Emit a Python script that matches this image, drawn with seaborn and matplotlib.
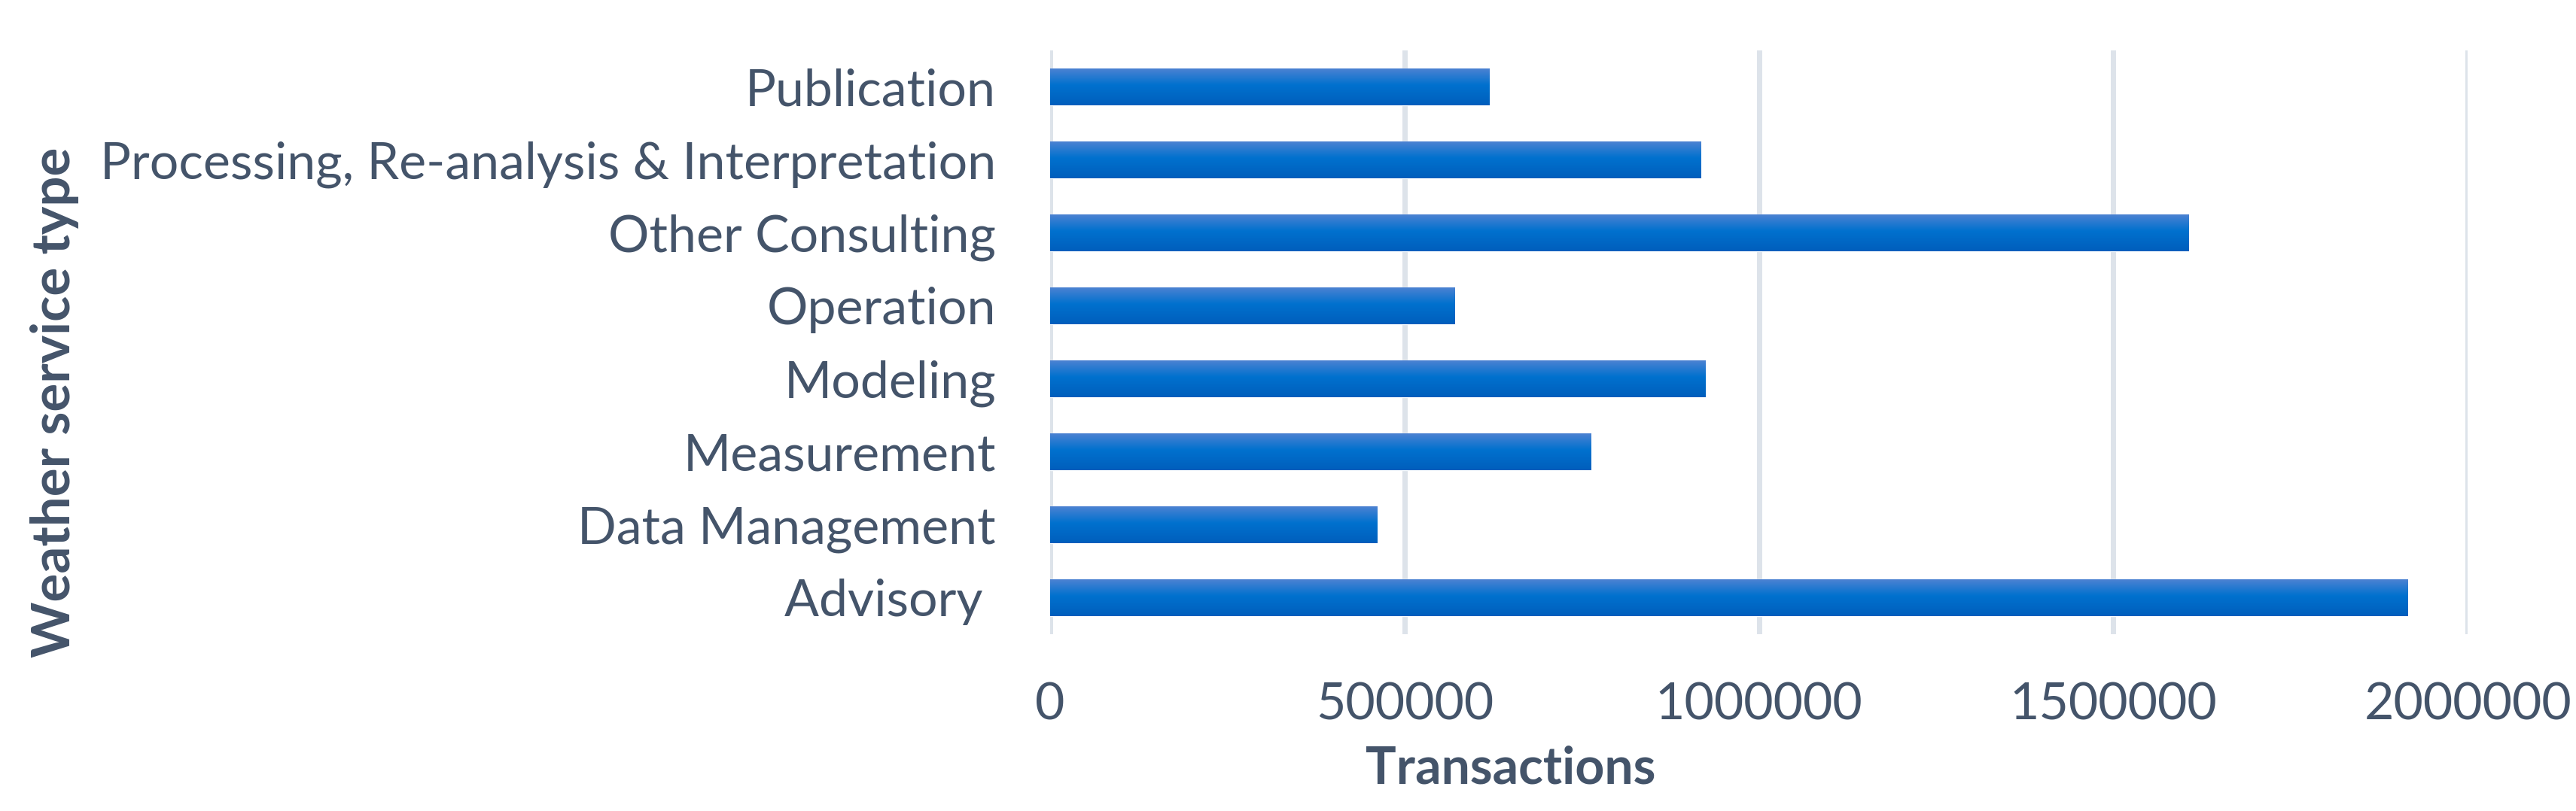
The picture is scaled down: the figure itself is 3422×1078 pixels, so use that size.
import numpy as np
import matplotlib
matplotlib.use("Agg")
import matplotlib.pyplot as plt
from matplotlib.colors import LinearSegmentedColormap
import seaborn as sns

# data
categories = ["Publication", "Processing, Re-analysis & Interpretation", "Other Consulting",
              "Operation", "Modeling", "Measurement", "Data Management", "Advisory "]
transactions = [620000, 918000, 1606000, 571000, 925000, 763000, 461000, 1915000]
x_ticks = [0, 500000, 1000000, 1500000, 2000000]

text_color = "#44546A"
grid_color = "#DDE3EA"

sns.set_style("white")
plt.rcParams["font.family"] = ["Lato", "DejaVu Sans"]

fig = plt.figure(figsize=(34.22, 10.78), dpi=100)
ax = fig.add_axes([0.4077, 0.218, 0.5503, 0.720])

sns.barplot(x=transactions, y=categories, orient="h", width=0.5,
            color="#0070CC", ax=ax, zorder=3)

# gradient fill like the office chart
grad_cmap = LinearSegmentedColormap.from_list(
    "bar", [(0.0, "#4C82D2"), (0.45, "#0071CE"), (1.0, "#005EBC")])
grad = np.linspace(0, 1, 256).reshape(-1, 1)
for p in list(ax.patches):
    x0, y0 = p.get_x(), p.get_y()
    w, h = p.get_width(), p.get_height()
    ax.imshow(grad, cmap=grad_cmap, aspect="auto", interpolation="bicubic",
              extent=(x0, x0 + w, y0 + h, y0), origin="upper", zorder=4)

ax.set_xlim(0, 2000000)
ax.set_ylim(7.5, -0.5)
ax.set_xticks(x_ticks)
ax.set_xticklabels([str(t) for t in x_ticks])
ax.grid(axis="x", color=grid_color, linewidth=5, zorder=0)
ax.grid(axis="y", visible=False)
for s in ax.spines.values():
    s.set_visible(False)

ax.tick_params(axis="x", length=0, pad=46, labelsize=49, labelcolor=text_color)
ax.tick_params(axis="y", length=0, pad=52, labelsize=49, labelcolor=text_color)

ax.set_xlabel("Transactions", fontsize=49, fontweight="bold", color=text_color)
ax.xaxis.set_label_coords(0.325, -0.19)
ax.set_ylabel("Weather service type", fontsize=51, fontweight="bold", color=text_color)
ax.yaxis.set_label_coords(-0.685, 0.397)

fig.savefig("out.png", dpi=100, facecolor="white")
